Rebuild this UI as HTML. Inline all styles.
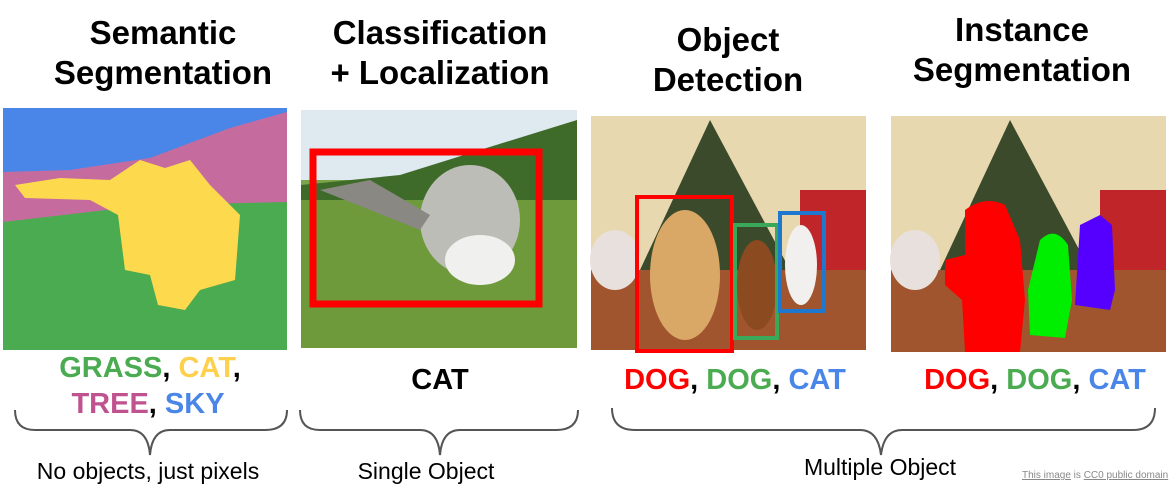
<!DOCTYPE html>
<html><head><meta charset="utf-8"><style>
body{margin:0;width:1173px;height:490px;background:#fff;overflow:hidden;position:relative;font-family:"Liberation Sans",Arial,sans-serif}
.t{position:absolute;font-weight:bold;font-size:33px;text-align:center;line-height:40px;color:#000;white-space:nowrap}
.l{position:absolute;font-weight:bold;font-size:29px;white-space:nowrap;text-align:center}
.c{position:absolute;font-size:23px;white-space:nowrap;text-align:center}
</style></head><body>
<div class="t" style="left:0;width:326px;top:13px">Semantic<br>Segmentation</div>
<div class="t" style="left:290px;width:300px;top:13px">Classification<br>+ Localization</div>
<div class="t" style="left:590px;width:276px;top:20px">Object<br>Detection</div>
<div class="t" style="left:880px;width:284px;top:10px">Instance<br>Segmentation</div>

<svg style="position:absolute;left:0;top:0" width="1173" height="490">
<rect x="3" y="108" width="284" height="242" fill="#4a86e8"/>
<polygon points="3,172 70,170 150,158 230,128 287,112 287,205 3,222" fill="#c66b9e"/>
<polygon points="3,222 150,205 287,202 287,350 3,350" fill="#4aab50"/>
<polygon points="15,185 60,178 110,180 140,160 165,168 190,160 210,185 240,215 235,280 200,290 185,310 158,305 150,275 125,270 118,215 90,200 25,198" fill="#fdd94e"/>
<rect x="301" y="110" width="276" height="238" fill="#7aa548"/>
<rect x="301" y="110" width="276" height="70" fill="#dfe9f0"/>
<polygon points="301,185 400,175 480,150 577,120 577,200 301,200" fill="#3f6b2a"/>
<rect x="301" y="200" width="276" height="148" fill="#6e9a3c"/>
<ellipse cx="470" cy="220" rx="50" ry="55" fill="#bdbdb8"/>
<polygon points="320,190 370,180 430,215 420,230" fill="#8a8883"/>
<ellipse cx="480" cy="260" rx="35" ry="25" fill="#f0f0ee"/>
<rect x="313" y="152" width="226" height="152" fill="none" stroke="#f00" stroke-width="7"/>
<rect x="591" y="116" width="275" height="234" fill="#e8d8b0"/>
<polygon points="710,120 640,270 790,270" fill="#3b4a2a"/>
<rect x="591" y="270" width="275" height="80" fill="#a0552e"/>
<rect x="800" y="190" width="66" height="80" fill="#c0252a"/>
<ellipse cx="615" cy="260" rx="25" ry="30" fill="#e8e0dc"/>
<ellipse cx="685" cy="275" rx="35" ry="65" fill="#d9a866"/>
<ellipse cx="757" cy="285" rx="20" ry="45" fill="#8b4a1f"/>
<ellipse cx="801" cy="265" rx="16" ry="40" fill="#f2f0ee"/>
<rect x="637" y="197" width="95" height="154" fill="none" stroke="#f00" stroke-width="4"/>
<rect x="735" y="225" width="42" height="113" fill="none" stroke="#3aa859" stroke-width="4"/>
<rect x="780" y="213" width="44" height="98" fill="none" stroke="#1e78d0" stroke-width="4"/>
<rect x="891" y="116" width="275" height="236" fill="#e8d8b0"/>
<polygon points="1010,120 940,270 1090,270" fill="#3b4a2a"/>
<rect x="891" y="270" width="275" height="82" fill="#a0552e"/>
<rect x="1100" y="190" width="66" height="80" fill="#c0252a"/>
<ellipse cx="915" cy="260" rx="25" ry="30" fill="#e8e0dc"/>
<path d="M965,210 Q985,195 1005,205 L1020,240 L1025,300 L1020,352 L965,352 L962,300 L945,285 L945,260 L965,255 Z" fill="#f00"/>
<path d="M1040,240 Q1055,225 1068,245 L1072,300 L1065,338 L1030,335 L1028,290 Z" fill="#00ee00"/>
<path d="M1080,225 L1100,215 L1112,225 L1115,290 L1110,310 L1075,305 Z" fill="#5500ff"/>
<g fill="none" stroke="#555" stroke-width="2">
<path d="M15,410 Q15,430 35,430 L130,430 Q148,430 150,455 Q152,430 170,430 L265,430 Q287,430 287,410"/>
<path d="M300,410 Q300,430 320,430 L420,430 Q438,430 440,455 Q442,430 460,430 L556,430 Q578,430 578,410"/>
<path d="M612,408 Q612,430 635,430 L860,430 Q878,430 881,455 Q884,430 902,430 L1133,430 Q1155,430 1155,408"/>
</g>
</svg>

<div class="l" style="left:0;width:300px;top:352px"><span style="color:#4aab50">GRASS</span>, <span style="color:#fdd04e">CAT</span>,</div>
<div class="l" style="left:0;width:296px;top:388px"><span style="color:#c0528f">TREE</span>, <span style="color:#4a86e8">SKY</span></div>
<div class="l" style="left:290px;width:300px;top:364px">CAT</div>
<div class="l" style="left:585px;width:300px;top:364px"><span style="color:#f00">DOG</span>, <span style="color:#4aab50">DOG</span>, <span style="color:#4a86e8">CAT</span></div>
<div class="l" style="left:885px;width:300px;top:364px"><span style="color:#f00">DOG</span>, <span style="color:#4aab50">DOG</span>, <span style="color:#4a86e8">CAT</span></div>

<div class="c" style="left:0;width:296px;top:458px">No objects, just pixels</div>
<div class="c" style="left:300px;width:252px;top:458px">Single Object</div>
<div class="c" style="left:780px;width:200px;top:454px">Multiple Object</div>
<div style="position:absolute;left:1022px;top:470px;font-size:10px;color:#888;white-space:nowrap"><u>This image</u> is <u>CC0 public domain</u></div>
</body></html>
